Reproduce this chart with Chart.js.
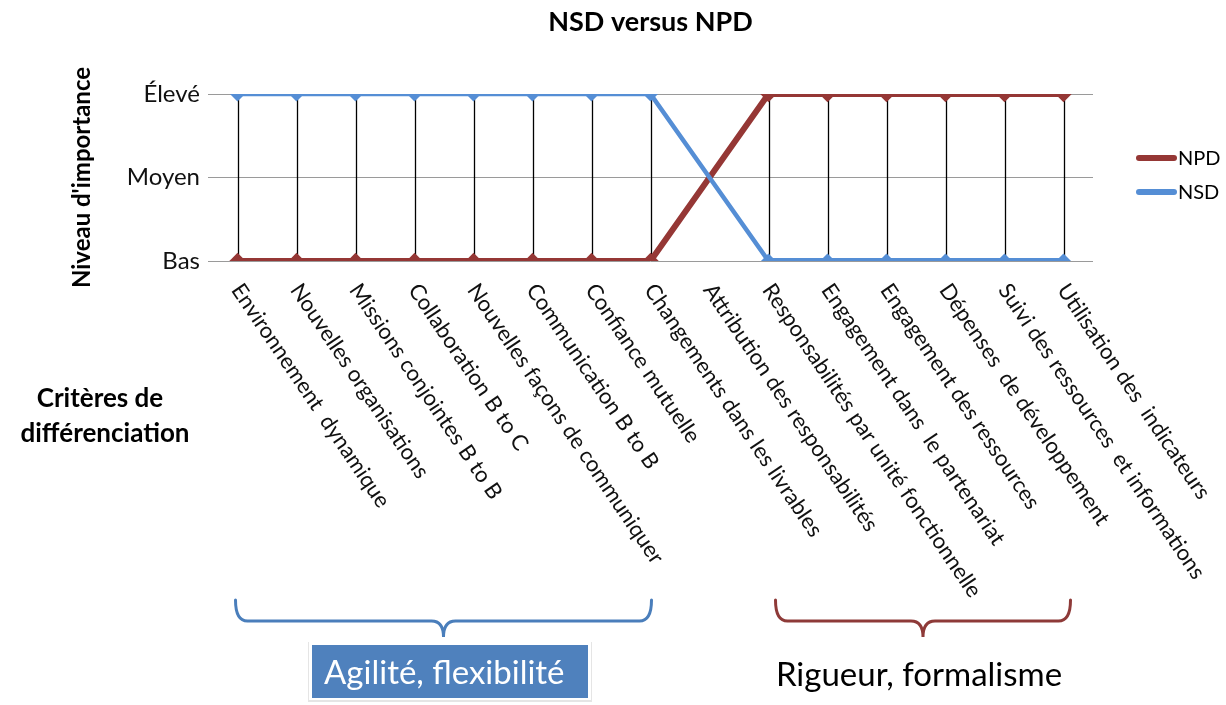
<!DOCTYPE html>
<html>
<head>
<meta charset="utf-8">
<script src="https://cdn.jsdelivr.net/npm/chart.js@4/dist/chart.umd.min.js"></script>
<style>
html,body{margin:0;padding:0;background:#fff;}
#wrap{width:1226px;height:705px;position:relative;}
</style>
</head>
<body>
<div id="wrap"><canvas id="c" width="1226" height="705"></canvas></div>
<script>
const categories = [
  "Environnement  dynamique",
  "Nouvelles organisations",
  "Missions conjointes B to B",
  "Collaboration B to C",
  "Nouvelles façons de communiquer",
  "Communication B to B",
  "Confiance mutuelle",
  "Changements dans les livrables",
  "Attribution des responsabilités",
  "Responsabilités par unité fonctionnelle",
  "Engagement dans  le partenariat",
  "Engagement des ressources",
  "Dépenses  de développement",
  "Suivi des ressources  et informations",
  "Utilisation des  indicateurs"
];
const levelLabels = ["Bas", "Moyen", "Élevé"];
const npdValues = [0,0,0,0,0,0,0,0,null,2,2,2,2,2,2];
const nsdValues = [2,2,2,2,2,2,2,2,null,0,0,0,0,0,0];
const groupLabels = ["Agilité, flexibilité", "Rigueur, formalisme"];
const groupRanges = [[0,7],[9,14]];

const FONT = "Lato, 'Open Sans', sans-serif";
const RED = "#953735";
const BLUE = "#558ED5";

const extras = {
  id: 'extras',
  beforeDatasetsDraw(chart) {
    const ctx = chart.ctx;
    const x = chart.scales.x, y = chart.scales.y;
    ctx.save();
    ctx.strokeStyle = "#000";
    ctx.lineWidth = 1.3;
    for (let i = 0; i < categories.length; i++) {
      const a = npdValues[i], b = nsdValues[i];
      if (a == null || b == null) continue;
      const px = Math.round(x.getPixelForValue(i)) + 0.5;
      ctx.beginPath();
      ctx.moveTo(px, y.getPixelForValue(a));
      ctx.lineTo(px, y.getPixelForValue(b));
      ctx.stroke();
    }
    ctx.restore();
  },
  afterDraw(chart) {
    const ctx = chart.ctx;
    const x = chart.scales.x;
    ctx.save();
    // rotated category labels
    ctx.fillStyle = "#111";
    ctx.font = "22px " + FONT;
    ctx.textAlign = "left";
    ctx.textBaseline = "middle";
    const ang = 56 * Math.PI / 180;
    categories.forEach((lab, i) => {
      const px = x.getPixelForValue(i);
      ctx.save();
      ctx.translate(px - 1, 286);
      ctx.rotate(ang);
      ctx.fillText(lab, 0, 0);
      ctx.restore();
    });

    // "Critères de différenciation"
    ctx.font = "bold 26px " + FONT;
    ctx.textAlign = "center";
    ctx.fillStyle = "#000";
    ctx.fillText("Critères de", 100, 399);
    ctx.fillText("différenciation", 105, 434);

    // braces
    function brace(x1, x2, color) {
      const top = 600, mid = 621, tip = 637, r = 12;
      const cx = (x1 + x2) / 2;
      ctx.strokeStyle = color;
      ctx.lineWidth = 3;
      ctx.lineCap = "round";
      ctx.beginPath();
      ctx.moveTo(x1, top);
      ctx.quadraticCurveTo(x1, mid, x1 + r, mid);
      ctx.lineTo(cx - r, mid);
      ctx.quadraticCurveTo(cx, mid, cx, tip);
      ctx.quadraticCurveTo(cx, mid, cx + r, mid);
      ctx.lineTo(x2 - r, mid);
      ctx.quadraticCurveTo(x2, mid, x2, top);
      ctx.stroke();
    }
    const b1 = [x.getPixelForValue(groupRanges[0][0]) - 2, x.getPixelForValue(groupRanges[0][1]) + 1];
    const b2 = [x.getPixelForValue(groupRanges[1][0]) + 7, x.getPixelForValue(groupRanges[1][1]) + 7];
    brace(b1[0], b1[1], "#4A7EBB");
    brace(b2[0], b2[1], "#8E3A38");

    // Agilité box
    ctx.fillStyle = "rgba(0,0,0,0.10)";
    ctx.fillRect(308, 642, 284, 60);
    ctx.fillStyle = "#fff";
    ctx.fillRect(309, 642, 282, 58);
    ctx.fillStyle = "#4F81BD";
    ctx.fillRect(312, 645, 276, 53);
    ctx.fillStyle = "#fff";
    ctx.font = "33px " + FONT;
    ctx.textAlign = "left";
    ctx.textBaseline = "middle";
    ctx.fillText(groupLabels[0], 324, 673);

    ctx.fillStyle = "#000";
    ctx.textAlign = "center";
    ctx.fillText(groupLabels[1], 919, 675);

    // legend
    const items = [[chart.data.datasets[0], 158], [chart.data.datasets[1], 192]];
    items.forEach(([ds, yy]) => {
      ctx.strokeStyle = ds.borderColor;
      ctx.lineWidth = 6;
      ctx.lineCap = "round";
      ctx.beginPath();
      ctx.moveTo(1139, yy);
      ctx.lineTo(1174, yy);
      ctx.stroke();
      ctx.fillStyle = "#000";
      ctx.font = "20px " + FONT;
      ctx.textAlign = "left";
      ctx.textBaseline = "middle";
      ctx.fillText(ds.label, 1178, yy + 1);
    });
    ctx.restore();
  }
};

new Chart(document.getElementById('c'), {
  type: 'line',
  data: {
    labels: categories,
    datasets: [
      {
        label: "NPD",
        data: npdValues,
        borderColor: RED,
        backgroundColor: RED,
        pointStyle: 'rectRot',
        pointRadius: 4,
        pointHoverRadius: 4,
        spanGaps: true,
        order: 1,
        borderWidth: 6,
        segment: { borderWidth: c => (c.p1DataIndex - c.p0DataIndex > 1 ? 8 : 6) }
      },
      {
        label: "NSD",
        data: nsdValues,
        borderColor: BLUE,
        backgroundColor: BLUE,
        pointStyle: 'rectRot',
        pointRadius: 4,
        pointHoverRadius: 4,
        spanGaps: true,
        order: 0,
        borderWidth: 5,
        segment: { borderWidth: c => (c.p1DataIndex - c.p0DataIndex > 1 ? 8 : (c.p0DataIndex > 8 ? 6 : 4.5)) }
      }
    ]
  },
  options: {
    responsive: false,
    animation: false,
    events: [],
    layout: { padding: { left: 62, right: 133, top: 0, bottom: 0 } },
    plugins: {
      legend: { display: false },
      tooltip: { enabled: false },
      title: {
        display: true,
        text: "NSD versus NPD",
        fullSize: false,
        color: "#000",
        font: { family: FONT, size: 27, weight: 'bold' },
        padding: { top: 6, bottom: 55.6 }
      }
    },
    scales: {
      x: {
        type: 'category',
        offset: true,
        grid: { display: false, drawTicks: false },
        border: { display: false },
        ticks: { display: false },
        afterFit: s => { s.height = 444; }
      },
      y: {
        min: 0,
        max: 2,
        grid: { color: "#9a9a9a", lineWidth: 1, drawTicks: false },
        border: { display: false },
        ticks: {
          stepSize: 1,
          padding: 8,
          color: "#111",
          font: { family: FONT, size: 24 },
          callback: v => levelLabels[v]
        },
        title: {
          display: true,
          text: "Niveau d'importance",
          color: "#000",
          font: { family: FONT, size: 24, weight: 'bold' },
          padding: { top: 6, bottom: 0 }
        },
        afterFit: s => { s.width = 146; }
      }
    }
  },
  plugins: [extras]
});
</script>
</body>
</html>
